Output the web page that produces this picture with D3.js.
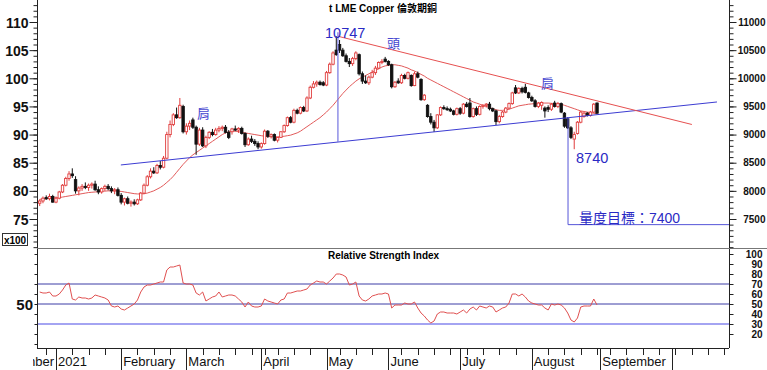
<!DOCTYPE html>
<html>
<head>
<meta charset="utf-8">
<script src="https://cdn.jsdelivr.net/npm/d3@7"></script>
<style>
  body { margin: 0; background: #fff; }
  svg { display: block; font-family: "Liberation Sans", Arial, sans-serif; }
</style>
</head>
<body>
<svg id="chart" width="767" height="370"></svg>
<script>
// daily candles [open, high, low, close], LME trading days 23 Dec 2020 .. 31 Aug 2021
const ohlc = [
  [7780,7850,7730,7820],[7820,7900,7780,7870],[7880,7920,7840,7860],[7860,7950,7830,7900],[7900,7930,7790,7800],
  [7800,7900,7780,7870],[7870,8000,7850,7980],[7980,8120,7960,8100],[8100,8250,8080,8220],[8220,8350,8180,8300],
  [8300,8400,8230,8270],[8200,8260,7950,8000],[8000,8080,7920,8050],[8050,8120,8000,8080],[8080,8150,8030,8060],
  [8060,8130,8000,8100],[8100,8150,8040,8120],[8120,8180,8000,8020],[8020,8080,7940,7980],[7980,8060,7950,8040],
  [8040,8110,8000,8080],[8080,8120,8010,8040],[8040,8080,7960,8000],[8000,8050,7940,8020],[8020,8060,7900,7920],
  [7920,7960,7760,7800],[7800,7880,7740,7860],[7860,7900,7760,7780],[7780,7830,7720,7800],[7800,7850,7740,7770],
  [7770,7860,7750,7840],[7840,7980,7820,7960],[7960,8130,7940,8100],[8100,8280,8080,8250],[8250,8400,8220,8350],
  [8350,8420,8300,8320],[8320,8480,8300,8450],[8450,8530,8380,8420],[8420,8620,8400,8580],[8580,9050,8560,9000],
  [9000,9250,8950,9180],[9180,9380,9150,9350],[9350,9480,9280,9300],[9300,9650,9280,9520],[9500,9530,9020,9050],
  [9050,9200,9000,9150],[9150,9250,9080,9200],[9260,9300,9100,9130],[9130,9160,8640,8830],[8830,9120,8800,9080],
  [9080,9130,8780,8800],[8800,8980,8760,8950],[8950,9060,8920,9040],[9040,9100,8970,9000],[9000,9120,8980,9080],
  [9080,9150,9040,9110],[9110,9160,9060,9130],[9130,9170,9020,9040],[9040,9080,8920,8950],[9050,9120,9000,9100],
  [9100,9160,9060,9080],[9080,9130,9030,9110],[9110,9140,9000,9020],[9020,9040,8780,8820],[8820,8950,8800,8920],
  [8920,8980,8850,8880],[8880,8920,8800,8840],[8840,8880,8740,8780],[8780,8860,8750,8840],[8840,9090,8820,9060],
  [9060,9080,8940,8970],[8970,9020,8930,9000],[9000,9020,8880,8900],[8900,8960,8860,8950],[8950,9060,8940,9050],
  [9050,9180,9030,9160],[9160,9320,9140,9300],[9300,9330,9200,9220],[9220,9460,9200,9430],[9430,9460,9360,9380],
  [9380,9500,9360,9480],[9480,9510,9400,9420],[9420,9680,9400,9650],[9650,9870,9630,9840],[9840,9950,9820,9900],
  [9900,9960,9850,9930],[9930,9960,9870,9890],[9920,9950,9860,9880],[9880,10130,9860,10100],[10100,10280,10080,10250],
  [10250,10480,10230,10450],[10500,10747,10400,10420],[10600,10680,10450,10500],[10500,10540,10380,10400],[10400,10440,10280,10300],
  [10300,10360,10200,10260],[10260,10380,10220,10350],[10350,10480,10320,10450],[10420,10440,10050,10080],[10080,10120,9900,9950],
  [9950,10050,9900,9920],[9920,10050,9880,10020],[10020,10150,10000,10100],[10100,10220,10060,10180],[10180,10300,10160,10280],
  [10280,10340,10250,10300],[10340,10380,10280,10300],[10300,10320,10220,10240],[10240,10260,9820,9850],[9850,9950,9830,9930],
  [9950,10000,9900,9920],[9920,10080,9900,10050],[10050,10080,9980,10000],[10000,10120,9980,10100],[10050,10070,9850,9870],
  [9870,10120,9860,10080],[10080,10120,10000,10020],[9980,10000,9600,9620],[9620,9720,9600,9700],[9520,9540,9300,9320],
  [9320,9380,9180,9220],[9220,9260,9046,9120],[9120,9360,9100,9350],[9350,9500,9330,9480],[9480,9520,9440,9460],
  [9460,9500,9420,9450],[9450,9480,9400,9420],[9420,9440,9340,9360],[9360,9480,9340,9460],[9460,9490,9350,9380],
  [9380,9560,9360,9540],[9540,9580,9480,9500],[9560,9650,9300,9320],[9320,9480,9300,9460],[9460,9500,9330,9360],
  [9360,9520,9340,9500],[9500,9540,9460,9520],[9520,9560,9480,9540],[9540,9580,9430,9460],[9460,9480,9400,9420],
  [9420,9440,9170,9230],[9230,9350,9200,9320],[9320,9420,9300,9400],[9400,9490,9380,9470],[9470,9570,9450,9550],
  [9550,9760,9530,9740],[9830,9880,9720,9740],[9740,9840,9720,9820],[9820,9850,9730,9760],[9840,9900,9730,9750],
  [9740,9760,9640,9660],[9660,9690,9580,9600],[9600,9630,9480,9500],[9500,9580,9470,9560],[9520,9590,9440,9570],
  [9470,9500,9300,9420],[9480,9520,9400,9450],[9450,9560,9420,9540],[9560,9600,9480,9500],[9500,9580,9470,9550],
  [9550,9570,9380,9400],[9380,9400,9120,9150],[9280,9310,9100,9120],[9120,9150,8920,8950],[8920,9050,8740,9000],
  [9020,9240,9000,9220],[9220,9420,9200,9400],[9320,9400,9300,9380],[9380,9400,9320,9340],[9340,9420,9320,9400],
  [9400,9560,9380,9540],[9560,9570,9370,9380]
];

// moving average (red line)
const ma = [
  7850,7855,7860,7865,7870,7875,7880,7890,7900,7910,
  7920,7930,7940,7950,7960,7970,7975,7980,7985,7990,
  7995,8000,8000,8000,7995,7990,7980,7970,7960,7950,
  7945,7945,7950,7960,7980,8000,8030,8060,8100,8150,
  8200,8260,8330,8400,8470,8530,8590,8640,8680,8720,
  8760,8800,8840,8880,8920,8960,9000,9030,9050,9060,
  9060,9050,9040,9030,9020,9010,9000,8990,8980,8970,
  8965,8960,8960,8960,8965,8970,8980,8990,9010,9030,
  9060,9100,9140,9180,9220,9260,9300,9350,9400,9460,
  9520,9590,9660,9730,9790,9850,9900,9950,9990,10020,
  10050,10080,10110,10140,10170,10200,10220,10230,10240,10240,
  10230,10220,10200,10180,10150,10130,10100,10070,10040,10000,
  9970,9940,9910,9880,9850,9820,9790,9760,9730,9700,
  9670,9640,9610,9580,9560,9540,9520,9500,9480,9460,
  9440,9430,9430,9440,9450,9470,9490,9510,9520,9530,
  9540,9545,9550,9555,9560,9560,9560,9555,9550,9545,
  9540,9520,9500,9480,9460,9440,9420,9410,9400,9390,
  9380,9370
];

const rsi = [
  62,61,61,62,58,58,60,64,69,71,
  55,54,57,56,56,55,56,59,58,57,
  56,54,48,47,48,45,44,46,48,50,
  54,62,67,69,69,70,71,72,72,84,
  87,87,88,89,71,70,70,69,61,59,
  62,53,55,57,58,62,57,58,59,59,
  58,55,52,47,52,48,47,47,48,55,
  53,52,51,50,54,55,61,61,62,63,
  63,64,65,69,71,73,72,72,70,73,
  76,80,80,79,77,69,70,72,58,54,
  53,55,58,59,60,60,61,60,46,49,
  49,49,51,50,50,52,46,41,38,34,
  31,33,40,42,42,41,41,41,40,42,
  44,41,45,47,44,48,47,46,48,47,
  42,44,46,47,51,60,60,58,60,57,
  53,51,50,49,49,46,44,50,49,50,
  49,46,41,34,32,36,47,48,48,48,
  55,49
];

// x axis: first trading day of each month (index into the trading-day sequence)
const monthTicks = [
  { i: 5, label: "2021" }, { i: 25, label: "February" }, { i: 45, label: "March" },
  { i: 68, label: "April" }, { i: 88, label: "May" }, { i: 107, label: "June" },
  { i: 129, label: "July" }, { i: 151, label: "August" }, { i: 172, label: "September" },
  { i: 194, label: "" }
];
const prevMonthLabel = "December";
const weekTicks = [2,5,10,15,20,25,30,35,40,45,50,55,60,65,69,73,78,83,88,92,97,102,107,111,116,
  121,126,131,136,141,146,151,156,161,166,171,175,180,185,190,195,200,205,210];
const priceTicks = [7500, 8000, 8500, 9000, 9500, 10000, 10500, 11000];
const rsiTicks = [20, 30, 40, 50, 60, 70, 80, 90, 100];
const rsiLevels = [70, 50, 30];

// pattern annotations (head and shoulders)
const peak = { i: 91.5, price: 10747 };
const trough = { price: 8740 };
const neckline = [[24.9, 8460], [207.8, 9579]];
const topLine = [[91.5, 10747], [200.1, 9179]];
const breakIdx = 162.1;
const target = 7400;

const L = 37, R = 729, mainBottom = 248, rsiBottom = 348;

const svg = d3.select("#chart");

const x = d3.scaleLinear().domain([5, 194]).range([56, 672]);
const y = d3.scaleLinear().domain([7500, 11000]).range([219, 22]);
const yr = d3.scaleLinear().domain([0, 100]).range([354, 254]);

const defs = svg.append("defs");
defs.append("clipPath").attr("id", "clipMain")
  .append("rect").attr("x", L).attr("y", 0).attr("width", R - L).attr("height", mainBottom);
defs.append("clipPath").attr("id", "clipLabels")
  .append("rect").attr("x", 33).attr("y", 348).attr("width", 767).attr("height", 30);

// title texts
svg.append("text").attr("x", 383).attr("y", 12).attr("text-anchor", "middle")
  .attr("font-size", 10).attr("font-weight", "bold")
  .attr("font-family", "'Liberation Sans', Arial, 'Noto Sans CJK TC', sans-serif")
  .text("t LME Copper 倫敦期銅");
svg.append("text").attr("x", 328).attr("y", 259)
  .attr("font-size", 10).attr("font-weight", "bold")
  .text("Relative Strength Index");

// ---- main panel ----
const main = svg.append("g").attr("clip-path", "url(#clipMain)");

// moving average
main.append("path")
  .datum(ma)
  .attr("fill", "none").attr("stroke", "#e25a5a").attr("stroke-width", 1)
  .attr("d", d3.line().x((d, i) => x(i)).y(d => y(d)));

const candles = main.selectAll(".candle").data(ohlc).enter().append("g").attr("class", "candle");
candles.append("line")
  .attr("x1", (d, i) => x(i)).attr("x2", (d, i) => x(i))
  .attr("y1", d => y(d[1])).attr("y2", d => y(d[2]))
  .attr("stroke", d => d[3] >= d[0] ? "#e03c3c" : "#111").attr("stroke-width", 1);
candles.append("rect")
  .attr("x", (d, i) => x(i) - 1.2).attr("width", 2.4)
  .attr("y", d => y(Math.max(d[0], d[3])))
  .attr("height", d => Math.max(1, Math.abs(y(d[0]) - y(d[3]))))
  .attr("fill", d => d[3] >= d[0] ? "#fff" : "#111")
  .attr("stroke", d => d[3] >= d[0] ? "#e03c3c" : "#111")
  .attr("stroke-width", 0.9);

// trend lines
main.append("line")
  .attr("x1", x(neckline[0][0])).attr("y1", y(neckline[0][1]))
  .attr("x2", x(neckline[1][0])).attr("y2", y(neckline[1][1]))
  .attr("stroke", "#3c3cd2").attr("stroke-width", 1);
main.append("line")
  .attr("x1", x(topLine[0][0])).attr("y1", y(topLine[0][1]))
  .attr("x2", x(topLine[1][0])).attr("y2", y(topLine[1][1]))
  .attr("stroke", "#e65050").attr("stroke-width", 1);

const neckAt = i => neckline[0][1] + (neckline[1][1] - neckline[0][1]) * (i - neckline[0][0]) / (neckline[1][0] - neckline[0][0]);

// head height line
main.append("line")
  .attr("x1", x(peak.i)).attr("x2", x(peak.i))
  .attr("y1", y(peak.price) - 4).attr("y2", y(neckAt(peak.i)))
  .attr("stroke", "#7373e0").attr("stroke-width", 1.2);
// measured target
main.append("path")
  .attr("d", `M${x(breakIdx)},${y(neckAt(breakIdx))}V${y(target)}H${R}`)
  .attr("fill", "none").attr("stroke", "#5555d8").attr("stroke-width", 1);

const ann = svg.append("g").attr("fill", "#2a2ac4")
  .attr("font-family", "'Liberation Sans', Arial, 'Noto Sans CJK TC', sans-serif");
ann.append("text").attr("x", 325).attr("y", 38).attr("font-size", 14.5).text(String(peak.price));
ann.append("text").attr("x", 576).attr("y", 163).attr("font-size", 14.5).text(String(trough.price));
ann.append("text").attr("x", 579).attr("y", 223).attr("font-size", 14).text("量度目標：" + target);
ann.append("text").attr("x", 387).attr("y", 48).attr("font-size", 13).attr("fill", "#4646d0").text("頭");
ann.append("text").attr("x", 197).attr("y", 118).attr("font-size", 13).attr("fill", "#4646d0").text("肩");
ann.append("text").attr("x", 541).attr("y", 88).attr("font-size", 13).attr("fill", "#4646d0").text("肩");

// ---- RSI panel ----
const rsiG = svg.append("g");
rsiLevels.forEach(v => {
  rsiG.append("line").attr("x1", L).attr("x2", R).attr("y1", yr(v)).attr("y2", yr(v))
    .attr("stroke", v === 30 ? "#a4a4f2" : "#3d3da6")
    .attr("stroke-width", v === 30 ? 2 : 1);
});
rsiG.append("path")
  .datum(rsi)
  .attr("fill", "none").attr("stroke", "#e05050").attr("stroke-width", 1)
  .attr("d", d3.line().x((d, i) => x(i)).y(d => yr(d)));

// ---- frame ----
const frame = svg.append("g").attr("stroke", "#222").attr("stroke-width", 1).attr("shape-rendering", "crispEdges");
frame.append("line").attr("x1", L + 0.5).attr("x2", L + 0.5).attr("y1", 0).attr("y2", rsiBottom);
frame.append("line").attr("x1", R + 0.5).attr("x2", R + 0.5).attr("y1", 0).attr("y2", rsiBottom);
frame.append("line").attr("x1", L).attr("x2", 767).attr("y1", mainBottom + 0.5).attr("y2", mainBottom + 0.5).attr("stroke", "#777");
frame.append("line").attr("x1", L).attr("x2", R).attr("y1", rsiBottom + 0.5).attr("y2", rsiBottom + 0.5);

// price axes
const leftAxis = svg.append("g").attr("transform", `translate(${L + 0.5},0)`)
  .call(d3.axisLeft(y).tickValues(priceTicks).tickFormat(d => d / 100).tickSize(8).tickPadding(1));
leftAxis.selectAll("text").attr("font-size", 14).attr("font-weight", "bold").attr("fill", "#111").attr("dy", "0.36em");
const rightAxis = svg.append("g").attr("transform", `translate(${R + 0.5},0)`)
  .call(d3.axisRight(y).tickValues(priceTicks).tickFormat(d3.format("d")).tickSize(7));
rightAxis.selectAll("text").attr("font-size", 10).attr("font-weight", "bold").attr("fill", "#111")
  .attr("text-anchor", "end").attr("x", 36);

const minorPrice = d3.range(7000, 11400, 100).filter(v => y(v) > 0 && y(v) < mainBottom);
svg.append("g").attr("transform", `translate(${L + 0.5},0)`)
  .call(d3.axisLeft(y).tickValues(minorPrice).tickFormat("").tickSize(4));
svg.append("g").attr("transform", `translate(${R + 0.5},0)`)
  .call(d3.axisRight(y).tickValues(minorPrice).tickFormat("").tickSize(4));

// rsi axes
const rsiRight = svg.append("g").attr("transform", `translate(${R + 0.5},0)`)
  .call(d3.axisRight(yr).tickValues(rsiTicks).tickSize(4));
rsiRight.selectAll("text").attr("font-size", 10).attr("font-weight", "bold").attr("fill", "#111")
  .attr("text-anchor", "end").attr("x", 33);
svg.append("g").attr("transform", `translate(${L + 0.5},0)`)
  .call(d3.axisLeft(yr).tickValues([10, 20, 30, 40, 50, 60, 70, 80, 90, 100]).tickFormat("").tickSize(3));
svg.append("text").attr("x", 33).attr("y", 309.5).attr("text-anchor", "end")
  .attr("font-size", 15).attr("font-weight", "bold").attr("fill", "#111").text("50");

svg.selectAll(".domain").remove();
svg.selectAll(".tick line").attr("stroke", "#222");

// x100 box
svg.append("rect").attr("x", 2.5).attr("y", 233.5).attr("width", 25).attr("height", 12)
  .attr("fill", "#fff").attr("stroke", "#333");
svg.append("text").attr("x", 15).attr("y", 243.5).attr("text-anchor", "middle")
  .attr("font-size", 10).attr("font-weight", "bold").text("x100");

// time axis
const tAxis = svg.append("g").attr("stroke", "#222").attr("shape-rendering", "crispEdges");
tAxis.selectAll(".wk").data(weekTicks).enter().append("line")
  .attr("x1", d => Math.round(x(d)) + 0.5).attr("x2", d => Math.round(x(d)) + 0.5)
  .attr("y1", rsiBottom).attr("y2", rsiBottom + 7);
tAxis.selectAll(".mo").data(monthTicks).enter().append("line")
  .attr("x1", d => Math.round(x(d.i)) + 0.5).attr("x2", d => Math.round(x(d.i)) + 0.5)
  .attr("y1", rsiBottom).attr("y2", 370);

const labels = svg.append("g").attr("clip-path", "url(#clipLabels)")
  .attr("font-size", 13).attr("fill", "#111");
labels.selectAll(".ml").data(monthTicks).enter().append("text")
  .attr("x", d => x(d.i) + 2).attr("y", 366).text(d => d.label);
labels.append("text").attr("x", x(monthTicks[0].i) - 2).attr("y", 366)
  .attr("text-anchor", "end").text(prevMonthLabel);
</script>
</body>
</html>
